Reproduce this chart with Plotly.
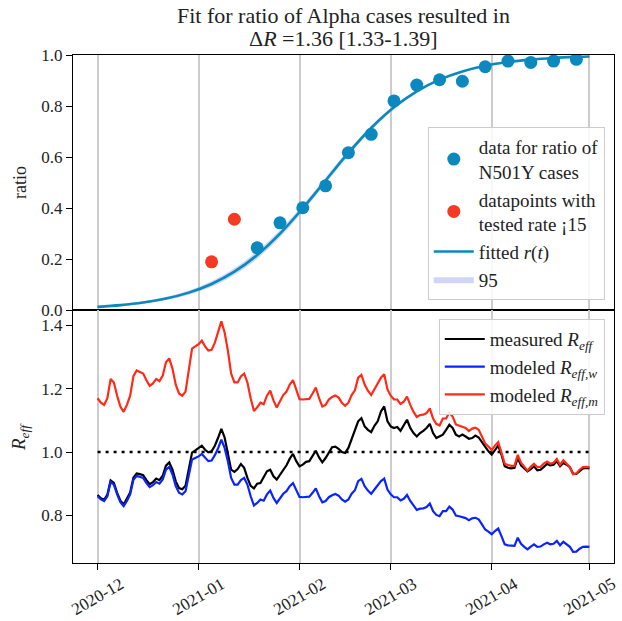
import pandas as pd
import plotly.graph_objects as go
from plotly.subplots import make_subplots

# ---------------- data ----------------
# weekly data for ratio of N501Y cases
data_dates = ["2021-01-19", "2021-01-26", "2021-02-02", "2021-02-09", "2021-02-16",
              "2021-02-23", "2021-03-02", "2021-03-09", "2021-03-16", "2021-03-23",
              "2021-03-30", "2021-04-06", "2021-04-13", "2021-04-20", "2021-04-27"]
data_ratio = [0.244, 0.342, 0.401, 0.487, 0.617, 0.689, 0.820, 0.882, 0.903, 0.897,
              0.954, 0.976, 0.971, 0.976, 0.983]

# datapoints with low tested rate
low_dates = ["2021-01-05", "2021-01-12"]
low_ratio = [0.189, 0.356]

# fitted r(t) and its 95% band
fit_dates = ["2020-12-01", "2020-12-08", "2020-12-15", "2020-12-22", "2020-12-29",
             "2021-01-05", "2021-01-12", "2021-01-19", "2021-01-26", "2021-02-02",
             "2021-02-09", "2021-02-16", "2021-02-23", "2021-03-02", "2021-03-09",
             "2021-03-16", "2021-03-23", "2021-03-30", "2021-04-06", "2021-04-13",
             "2021-04-20", "2021-04-27", "2021-05-01"]
fit_r = [0.0124, 0.0191, 0.0294, 0.0450, 0.0682, 0.1021, 0.1503, 0.2156, 0.2993, 0.3990,
         0.5079, 0.6160, 0.7137, 0.7948, 0.8576, 0.9035, 0.9357, 0.9577, 0.9723, 0.9820,
         0.9884, 0.9925, 0.9941]
fit_lo = [0.010, 0.016, 0.025, 0.039, 0.060, 0.091, 0.137, 0.201, 0.285, 0.386,
          0.496, 0.605, 0.704, 0.787, 0.852, 0.899, 0.932, 0.955, 0.970, 0.981,
          0.988, 0.992, 0.994]
fit_hi = [0.015, 0.023, 0.034, 0.051, 0.077, 0.113, 0.164, 0.231, 0.314, 0.412,
          0.520, 0.627, 0.723, 0.802, 0.863, 0.908, 0.939, 0.960, 0.975, 0.983,
          0.989, 0.993, 0.995]

# daily R_eff series, 2020-12-01 .. 2021-05-01
r_start = "2020-12-01"
r_measured = [
    0.864, 0.854, 0.849, 0.865, 0.910, 0.902, 0.871, 0.846, 0.834, 0.851,
    0.872, 0.919, 0.932, 0.930, 0.927, 0.911, 0.898, 0.905, 0.916, 0.911,
    0.925, 0.957, 0.967, 0.944, 0.907, 0.886, 0.882, 0.893, 0.948, 0.998,
    1.005, 1.013, 1.020, 1.007, 0.999, 1.002, 1.020, 1.045, 1.073, 1.046,
    0.995, 0.944, 0.937, 0.946, 0.962, 0.950, 0.918, 0.893, 0.885, 0.900,
    0.902, 0.920, 0.939, 0.944, 0.923, 0.913, 0.929, 0.946, 0.958, 0.979,
    0.994, 0.971, 0.955, 0.960, 0.969, 0.971, 0.986, 1.004, 0.983, 0.967,
    0.981, 1.000, 1.015, 1.017, 1.010, 1.000, 0.997, 1.013, 1.039, 1.067,
    1.097, 1.107, 1.081, 1.070, 1.063, 1.083, 1.097, 1.128, 1.144, 1.097,
    1.081, 1.076, 1.079, 1.067, 1.086, 1.102, 1.076, 1.060, 1.049, 1.060,
    1.067, 1.076, 1.089, 1.060, 1.044, 1.049, 1.055, 1.070, 1.086, 1.076,
    1.055, 1.049, 1.055, 1.049, 1.042, 1.044, 1.052, 1.046, 1.030, 1.018,
    1.002, 0.992, 1.007, 1.020, 0.992, 0.955, 0.950, 0.948, 0.950, 0.981,
    0.958, 0.948, 0.939, 0.946, 0.955, 0.942, 0.944, 0.953, 0.962, 0.958,
    0.960, 0.971, 0.955, 0.965, 0.960, 0.952, 0.931, 0.931, 0.941, 0.948,
    0.950, 0.948]
r_w = [
    0.860, 0.850, 0.845, 0.860, 0.905, 0.897, 0.866, 0.841, 0.829, 0.845,
    0.866, 0.912, 0.925, 0.922, 0.918, 0.902, 0.889, 0.895, 0.905, 0.900,
    0.913, 0.944, 0.953, 0.929, 0.892, 0.871, 0.866, 0.876, 0.929, 0.976,
    0.981, 0.986, 0.994, 0.981, 0.971, 0.973, 0.990, 1.012, 1.039, 1.013,
    0.971, 0.918, 0.897, 0.897, 0.911, 0.918, 0.897, 0.860, 0.831, 0.839,
    0.850, 0.846, 0.866, 0.878, 0.855, 0.839, 0.853, 0.868, 0.876, 0.892,
    0.902, 0.881, 0.858, 0.857, 0.859, 0.859, 0.871, 0.885, 0.860, 0.841,
    0.845, 0.857, 0.863, 0.867, 0.862, 0.850, 0.843, 0.850, 0.868, 0.879,
    0.908, 0.915, 0.892, 0.878, 0.868, 0.881, 0.892, 0.908, 0.916, 0.881,
    0.866, 0.857, 0.857, 0.847, 0.852, 0.864, 0.845, 0.829, 0.817, 0.821,
    0.822, 0.826, 0.837, 0.813, 0.801, 0.797, 0.813, 0.813, 0.827, 0.818,
    0.799, 0.797, 0.794, 0.791, 0.784, 0.790, 0.792, 0.787, 0.771, 0.755,
    0.748, 0.740, 0.750, 0.758, 0.734, 0.708, 0.705, 0.703, 0.703, 0.729,
    0.710, 0.700, 0.692, 0.701, 0.708, 0.700, 0.701, 0.708, 0.713, 0.708,
    0.710, 0.719, 0.705, 0.716, 0.708, 0.700, 0.684, 0.685, 0.694, 0.700,
    0.701, 0.700]
r_m = [
    1.170, 1.156, 1.149, 1.170, 1.231, 1.220, 1.178, 1.144, 1.127, 1.149,
    1.178, 1.240, 1.258, 1.254, 1.248, 1.227, 1.209, 1.217, 1.231, 1.224,
    1.242, 1.284, 1.296, 1.263, 1.213, 1.185, 1.178, 1.191, 1.263, 1.327,
    1.334, 1.341, 1.352, 1.334, 1.321, 1.323, 1.346, 1.376, 1.413, 1.378,
    1.321, 1.248, 1.220, 1.220, 1.239, 1.248, 1.220, 1.170, 1.130, 1.141,
    1.156, 1.151, 1.178, 1.194, 1.163, 1.141, 1.160, 1.180, 1.191, 1.213,
    1.227, 1.198, 1.167, 1.166, 1.168, 1.168, 1.185, 1.204, 1.170, 1.144,
    1.149, 1.166, 1.174, 1.179, 1.172, 1.156, 1.146, 1.156, 1.180, 1.195,
    1.235, 1.244, 1.213, 1.194, 1.180, 1.198, 1.213, 1.235, 1.246, 1.198,
    1.178, 1.166, 1.166, 1.152, 1.159, 1.175, 1.149, 1.127, 1.111, 1.117,
    1.118, 1.123, 1.138, 1.106, 1.089, 1.084, 1.106, 1.106, 1.125, 1.112,
    1.087, 1.084, 1.080, 1.076, 1.066, 1.074, 1.077, 1.070, 1.049, 1.027,
    1.017, 1.006, 1.020, 1.031, 0.998, 0.963, 0.959, 0.956, 0.956, 0.991,
    0.966, 0.952, 0.941, 0.953, 0.963, 0.952, 0.953, 0.963, 0.970, 0.963,
    0.966, 0.978, 0.959, 0.974, 0.963, 0.952, 0.930, 0.932, 0.944, 0.952,
    0.953, 0.952]

ref_line_dates = ["2020-12-01", "2021-05-01"]
ref_line_vals = [1.0, 1.0]

tick_dates = ["2020-12-01", "2021-01-01", "2021-02-01", "2021-03-01", "2021-04-01", "2021-05-01"]
tick_labels = ["2020-12", "2021-01", "2021-02", "2021-03", "2021-04", "2021-05"]

r_dates = pd.date_range(r_start, periods=len(r_measured), freq="D")

# ---------------- style ----------------
FONT = "'Liberation Serif', 'DejaVu Serif', serif"
C_DATA = "#0b89bf"
C_LOW = "#f33a22"
C_W = "#0a24ff"
C_M = "#ff2a17"
TXT = "#222222"

fig = make_subplots(rows=2, cols=1, shared_xaxes=True, vertical_spacing=0,
                    row_heights=[0.502, 0.498])

# top panel
fig.add_trace(go.Scatter(x=fit_dates, y=fit_lo, mode="lines", line=dict(width=0, shape="spline"),
                         showlegend=False, hoverinfo="skip"), row=1, col=1)
fig.add_trace(go.Scatter(x=fit_dates, y=fit_hi, mode="lines", line=dict(width=0, shape="spline"),
                         fill="tonexty", fillcolor="rgba(150,165,240,0.45)",
                         name="95", legendrank=4), row=1, col=1)
fig.add_trace(go.Scatter(x=fit_dates, y=fit_r, mode="lines",
                         line=dict(color=C_DATA, width=2.6, shape="spline"),
                         name="fitted <i>r</i>(<i>t</i>)", legendrank=3), row=1, col=1)
fig.add_trace(go.Scatter(x=data_dates, y=data_ratio, mode="markers",
                         marker=dict(color=C_DATA, size=13),
                         name="data for ratio of<br>N501Y cases", legendrank=1), row=1, col=1)
fig.add_trace(go.Scatter(x=low_dates, y=low_ratio, mode="markers",
                         marker=dict(color=C_LOW, size=13),
                         name="datapoints with<br>tested rate ¡15", legendrank=2), row=1, col=1)

# bottom panel
fig.add_trace(go.Scatter(x=ref_line_dates, y=ref_line_vals, mode="lines",
                         line=dict(color="black", width=2.5, dash="3px,5px"),
                         showlegend=False, hoverinfo="skip"), row=2, col=1)
fig.add_trace(go.Scatter(x=r_dates, y=r_measured, mode="lines",
                         line=dict(color="black", width=2.2),
                         name="measured <i>R</i><sub><i>eff</i></sub>", legend="legend2"), row=2, col=1)
fig.add_trace(go.Scatter(x=r_dates, y=r_w, mode="lines",
                         line=dict(color=C_W, width=2.2),
                         name="modeled <i>R</i><sub><i>eff,w</i></sub>", legend="legend2"), row=2, col=1)
fig.add_trace(go.Scatter(x=r_dates, y=r_m, mode="lines",
                         line=dict(color=C_M, width=2.2),
                         name="modeled <i>R</i><sub><i>eff,m</i></sub>", legend="legend2"), row=2, col=1)

xrange = ["2020-11-23 10:48", "2021-05-08 13:12"]
axis_common = dict(showline=True, linecolor="black", linewidth=1.3, mirror=True,
                   tickfont=dict(family=FONT, size=17, color=TXT), zeroline=False)

fig.update_xaxes(range=xrange, tickvals=tick_dates, ticktext=tick_labels,
                 showgrid=True, gridcolor="#cccccc", gridwidth=1.5, showticklabels=False,
                 **axis_common)
fig.update_xaxes(ticks="", row=1, col=1)
fig.update_xaxes(ticks="outside", ticklen=6, tickwidth=1.2, tickcolor="black", row=2, col=1)

fig.update_yaxes(showgrid=False, ticks="outside", ticklen=6, tickwidth=1.2, tickcolor="black",
                 **axis_common)
fig.update_yaxes(range=[0, 1], tickvals=[0, 0.2, 0.4, 0.6, 0.8, 1.0], tickformat=".1f", row=1, col=1)
fig.update_yaxes(range=[0.649, 1.449], tickvals=[0.8, 1.0, 1.2, 1.4], tickformat=".1f", row=2, col=1)

legend_style = dict(bgcolor="rgba(255,255,255,0.85)", bordercolor="#cccccc", borderwidth=1,
                    font=dict(family=FONT, size=19, color=TXT), xanchor="right", x=0.983,
                    tracegroupgap=2, traceorder="normal", itemwidth=40)

annotations = [
    dict(text="Fit for ratio of Alpha cases resulted in", xref="paper", yref="paper",
         x=0.5, y=1.0787, xanchor="center", yanchor="middle", showarrow=False,
         font=dict(family=FONT, size=22, color=TXT)),
    dict(text="Δ<i>R</i> =1.36 [1.33-1.39]", xref="paper", yref="paper",
         x=0.5, y=1.0315, xanchor="center", yanchor="middle", showarrow=False,
         font=dict(family=FONT, size=22, color=TXT)),
    dict(text="ratio", xref="paper", yref="paper", x=-0.098, y=0.75, textangle=-90,
         xanchor="center", yanchor="middle", showarrow=False,
         font=dict(family=FONT, size=18, color=TXT)),
    dict(text="<i>R</i><sub><i>eff</i></sub>", xref="paper", yref="paper", x=-0.098, y=0.248,
         textangle=-90, xanchor="center", yanchor="middle", showarrow=False,
         font=dict(family=FONT, size=19, color=TXT)),
]
# rotated x tick labels, centred on their ticks (as in the reference)
for d, lab in zip(tick_dates, tick_labels):
    annotations.append(dict(text=lab, xref="x2", yref="paper", x=d, y=-0.065,
                            textangle=-30, xanchor="center", yanchor="middle",
                            showarrow=False, font=dict(family=FONT, size=17, color=TXT)))

fig.update_layout(
    template="none",
    width=622, height=621,
    margin=dict(l=73, r=8, t=55, b=58),
    paper_bgcolor="white", plot_bgcolor="white",
    font=dict(family=FONT, color=TXT),
    showlegend=True,
    legend=dict(y=0.518, yanchor="bottom", **legend_style),
    legend2=dict(y=0.480, yanchor="top", **legend_style),
    annotations=annotations,
)

fig.write_html("out.html", config={"displayModeBar": False},
               post_script="document.body.style.margin='0';")
